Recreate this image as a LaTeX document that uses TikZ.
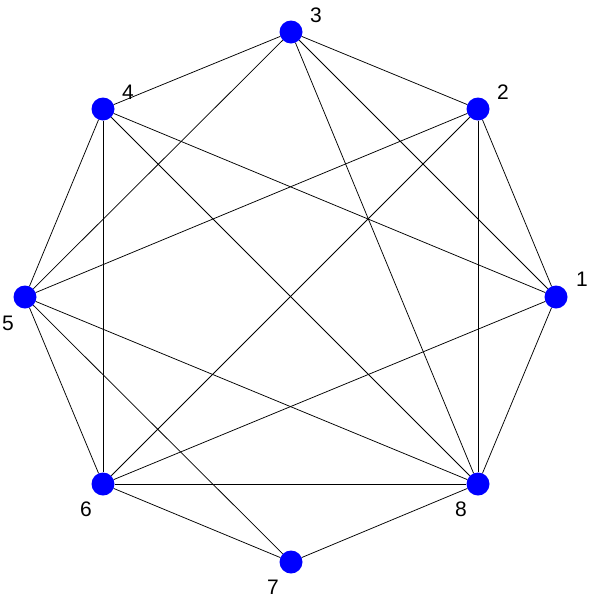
\documentclass[tikz,border=0pt]{standalone}
\usepackage{fontspec}
\setmainfont{Liberation Sans}
\begin{document}
\begin{tikzpicture}[x=1pt,y=-1pt,
  vtx/.style={circle,fill={rgb,255:red,0;green,0;blue,255},minimum size=23pt,inner sep=0pt},
  lbl/.style={font=\fontsize{21}{21}\selectfont,inner sep=0pt},
  edge/.style={draw=black,line width=0.75pt}]
\useasboundingbox (0,0) rectangle (589,595);
\node[vtx] (n1) at (556,297) {};
\node[vtx] (n2) at (478,109) {};
\node[vtx] (n3) at (291,32) {};
\node[vtx] (n4) at (103,109) {};
\node[vtx] (n5) at (25,297) {};
\node[vtx] (n6) at (103,484) {};
\node[vtx] (n7) at (291,562) {};
\node[vtx] (n8) at (478,484) {};
\node[lbl] (l1) at (582,279) {1};
\node[lbl] (l2) at (503,92) {2};
\node[lbl] (l3) at (316,15) {3};
\node[lbl] (l4) at (128,92) {4};
\node[lbl] (l5) at (8,323) {5};
\node[lbl] (l6) at (86,509) {6};
\node[lbl] (l7) at (273,587) {7};
\node[lbl] (l8) at (461,509) {8};
\foreach \a/\b in {1/2,1/3,1/4,1/6,1/8,2/3,2/5,2/6,2/8,3/4,3/5,3/8,4/5,4/6,4/8,5/6,5/7,5/8,6/7,6/8,7/8}
  \draw[edge] (n\a) -- (n\b);
\end{tikzpicture}
\end{document}
